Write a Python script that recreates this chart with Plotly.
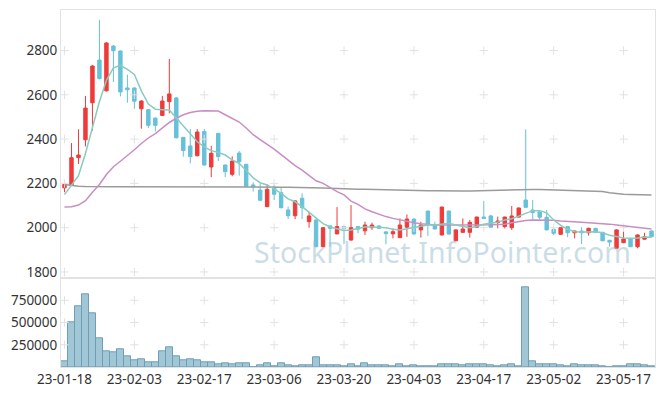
import plotly.graph_objects as go

dates = ["23-01-18","23-01-19","23-01-20","23-01-25","23-01-26","23-01-27","23-01-30","23-01-31",
         "23-02-01","23-02-02","23-02-03","23-02-06","23-02-07","23-02-08","23-02-09","23-02-10",
         "23-02-13","23-02-14","23-02-15","23-02-16","23-02-17","23-02-20","23-02-21","23-02-22",
         "23-02-23","23-02-24","23-02-27","23-02-28","23-03-02","23-03-03","23-03-06","23-03-07",
         "23-03-08","23-03-09","23-03-10","23-03-13","23-03-14","23-03-15","23-03-16","23-03-17",
         "23-03-20","23-03-21","23-03-22","23-03-23","23-03-24","23-03-27","23-03-28","23-03-29",
         "23-03-30","23-03-31","23-04-03","23-04-04","23-04-05","23-04-06","23-04-07","23-04-10",
         "23-04-11","23-04-12","23-04-13","23-04-14","23-04-17","23-04-18","23-04-19","23-04-20",
         "23-04-21","23-04-24","23-04-25","23-04-26","23-04-27","23-04-28","23-05-02","23-05-03",
         "23-05-04","23-05-08","23-05-09","23-05-10","23-05-11","23-05-12","23-05-15","23-05-16",
         "23-05-17","23-05-18","23-05-19","23-05-22","23-05-23"]

opens = [2180,2191,2316,2397,2564,2757,2618,2820,2798,2631,2631,2537,2533,2495,2507,2569,
         2586,2408,2369,2325,2434,2274,2426,2283,2241,2337,2286,2193,2170,2095,2184,2158,
         2080,2054,2133,2027,2035,1914,2008,1972,2005,1944,2005,1986,2000,2008,1981,1972,
         1955,2002,2039,1990,2075,2009,1967,2075,1941,1979,1979,2002,2048,2053,2023,2005,
         2000,2048,2125,2080,2071,2047,1993,1970,2005,1977,1985,1977,1997,1979,1943,1907,
         1932,1949,1914,1948,1985]
highs = [2197,2382,2444,2595,2735,2938,2838,2825,2800,2691,2633,2575,2535,2497,2595,2762,
         2590,2410,2445,2445,2446,2370,2428,2285,2322,2346,2288,2205,2200,2196,2195,2181,
         2095,2123,2155,2072,2037,2002,2010,2093,2007,2102,2007,2027,2023,2010,1983,1997,
         2042,2060,2041,2027,2077,2027,2095,2077,1992,2042,2035,2050,2121,2058,2050,2050,
         2098,2091,2444,2125,2075,2080,1995,2002,2007,1987,2002,2000,1999,1981,1945,1992,
         1985,1952,1970,1977,1987]
lows = [2160,2188,2288,2367,2438,2670,2615,2658,2593,2564,2537,2447,2450,2435,2505,2516,
        2403,2321,2291,2322,2280,2228,2301,2229,2232,2235,2185,2163,2120,2093,2125,2088,
        2039,2039,2039,2000,1912,1912,1914,1970,1926,1942,1975,1967,1990,1995,1925,1952,
        1953,1959,1966,1955,1962,1992,1965,1969,1939,1977,1955,2000,2040,2000,1997,1997,
        1990,2046,2090,2035,2035,1988,1966,1968,1957,1952,1926,1964,1977,1939,1914,1905,
        1930,1912,1907,1946,1957]
closes = [2195,2316,2328,2540,2730,2673,2834,2799,2613,2623,2571,2572,2462,2462,2572,2604,
          2406,2348,2321,2432,2283,2336,2321,2253,2301,2298,2187,2184,2124,2173,2151,2090,
          2054,2121,2090,2053,1914,2000,1997,2005,1997,2000,1993,2012,2012,1997,1973,1982,
          2012,2039,1972,2012,2012,1994,2093,1971,1990,1994,2024,2048,2042,2002,2030,2048,
          2053,2089,2092,2068,2047,1990,1975,2000,1977,1985,1977,1997,1979,1941,1935,1990,
          1949,1914,1967,1959,1959]

ma5 = [2149,2190,2235,2335,2455,2570,2665,2722,2733,2715,2692,2618,2558,2535,2533,2531,
       2495,2460,2420,2388,2365,2348,2340,2328,2306,2290,2258,2225,2203,2193,2175,2155,
       2130,2117,2095,2070,2042,2018,2003,1995,1987,1990,1996,2003,2003,2003,2000,1993,
       1990,1995,2000,2005,2012,2012,2015,2020,2012,2005,2000,2005,2015,2020,2025,2035,
       2040,2052,2065,2077,2077,2067,2035,2010,1993,1982,1980,1980,1982,1977,1966,1960,
       1953,1952,1953,1958,1957]
ma20 = [2093,2095,2102,2122,2160,2195,2240,2275,2300,2325,2352,2380,2405,2425,2450,2475,
        2494,2510,2520,2526,2528,2528,2527,2510,2495,2477,2450,2420,2398,2378,2355,2330,
        2305,2280,2260,2238,2212,2200,2180,2163,2148,2120,2105,2085,2072,2060,2050,2042,
        2035,2028,2022,2018,2014,2012,2012,2012,2011,2010,2010,2011,2012,2013,2014,2015,
        2022,2028,2032,2035,2035,2035,2033,2030,2027,2025,2024,2022,2021,2019,2016,2012,
        2009,2005,2002,1998,1994]
ma60 = [2195,2190,2187,2186,2185,2185,2185,2185,2185,2185,2185,2185,2185,2185,2185,2185,
        2186,2186,2186,2185,2185,2185,2185,2185,2185,2184,2184,2184,2184,2184,2183,2183,
        2182,2182,2181,2181,2180,2179,2178,2176,2175,2174,2173,2173,2172,2172,2171,2170,
        2170,2169,2168,2168,2167,2167,2166,2166,2166,2166,2166,2167,2168,2169,2170,2171,
        2172,2173,2173,2172,2172,2171,2171,2170,2170,2169,2169,2168,2167,2163,2158,2153,
        2151,2150,2149,2148,2148]

volumes = [64000,500000,685000,820000,600000,325000,180000,170000,195000,118000,75000,85000,
           52000,52000,180000,217000,118000,75000,85000,75000,50000,50000,30000,38000,30000,
           38000,38000,2000,18000,40000,10000,40000,20000,10000,15000,15000,110000,15000,
           15000,15000,6000,25000,6000,45000,15000,15000,15000,6000,25000,6000,15000,5000,
           5000,5000,25000,35000,35000,15000,25000,25000,25000,15000,6000,15000,25000,6000,
           900000,60000,25000,25000,25000,15000,6000,25000,15000,15000,15000,6000,2000,3000,
           3000,25000,25000,15000,6000]

price_ticks = [1800, 2000, 2200, 2400, 2600, 2800]
vol_ticks = [250000, 500000, 750000]
tick_dates = dates[::10]

FONT = "Noto Sans"
GRID = "#e2e2e2"

fig = go.Figure()

fig.add_trace(go.Bar(x=dates, y=volumes, xaxis="x2", yaxis="y2",
                     marker=dict(color="rgba(145,188,207,0.85)", line=dict(color="#6e9fb6", width=1)),
                     showlegend=False))

# grid crosses
gx, gy = [], []
for d in tick_dates:
    for p in price_ticks:
        gx.append(d); gy.append(p)
fig.add_trace(go.Scatter(x=gx, y=gy, mode="markers", xaxis="x", yaxis="y",
                         marker=dict(symbol="cross-thin", size=6, line=dict(color=GRID, width=1)),
                         hoverinfo="skip", showlegend=False))
vx, vy = [], []
for d in tick_dates:
    for v in vol_ticks:
        vx.append(d); vy.append(v)
fig.add_trace(go.Scatter(x=vx, y=vy, mode="markers", xaxis="x2", yaxis="y2",
                         marker=dict(symbol="cross-thin", size=6, line=dict(color=GRID, width=1)),
                         hoverinfo="skip", showlegend=False))

fig.add_trace(go.Scatter(x=dates, y=ma60, mode="lines", xaxis="x", yaxis="y",
                         line=dict(color="#9b9b9b", width=1.5), showlegend=False))
fig.add_trace(go.Scatter(x=dates, y=ma20, mode="lines", xaxis="x", yaxis="y",
                         line=dict(color="#c88ec3", width=1.5), showlegend=False))
fig.add_trace(go.Scatter(x=dates, y=ma5, mode="lines", xaxis="x", yaxis="y",
                         line=dict(color="#88ccc0", width=1.5), showlegend=False))

fig.add_trace(go.Candlestick(x=dates, open=opens, high=highs, low=lows, close=closes,
                             xaxis="x", yaxis="y",
                             increasing=dict(line=dict(color="#f03a3a", width=1), fillcolor="#f03a3a"),
                             decreasing=dict(line=dict(color="#66c1d9", width=1), fillcolor="#66c1d9"),
                             whiskerwidth=0, showlegend=False))

fig.add_annotation(text="StockPlanet.InfoPointer.com", xref="paper", yref="paper",
                   x=0.643, y=0.264, showarrow=False,
                   font=dict(family=FONT, size=28.5, color="rgba(150,188,208,0.5)"))

axis_common = dict(showline=True, linecolor=GRID, linewidth=1, mirror=True, automargin=False,
                   showgrid=False, zeroline=False, ticks="",
                   tickfont=dict(family=FONT, size=13.5, color="#333333"))
xcat = dict(type="category", categoryorder="array", categoryarray=dates,
            range=[-0.5, len(dates) - 0.5], domain=[0, 1], tickangle=0)

fig.update_layout(
    width=665, height=396,
    margin=dict(l=61, r=10, t=10, b=29, autoexpand=False),
    paper_bgcolor="white", plot_bgcolor="white",
    showlegend=False, bargap=0.0,
    xaxis=dict(anchor="y", showticklabels=False, rangeslider=dict(visible=False),
               **xcat, **axis_common),
    yaxis=dict(domain=[0.2507, 1], range=[1775, 2983], tickvals=price_ticks,
               anchor="x", **axis_common),
    xaxis2=dict(anchor="y2", matches="x", tickmode="array", tickvals=tick_dates, ticktext=tick_dates,
                **xcat, **axis_common),
    yaxis2=dict(domain=[0, 0.2485], range=[0, 998000], tickvals=vol_ticks, tickformat="d",
                anchor="x2", **axis_common),
)

fig.write_html("out.html", config={"displayModeBar": False},
               post_script="document.body.style.margin='0';")
